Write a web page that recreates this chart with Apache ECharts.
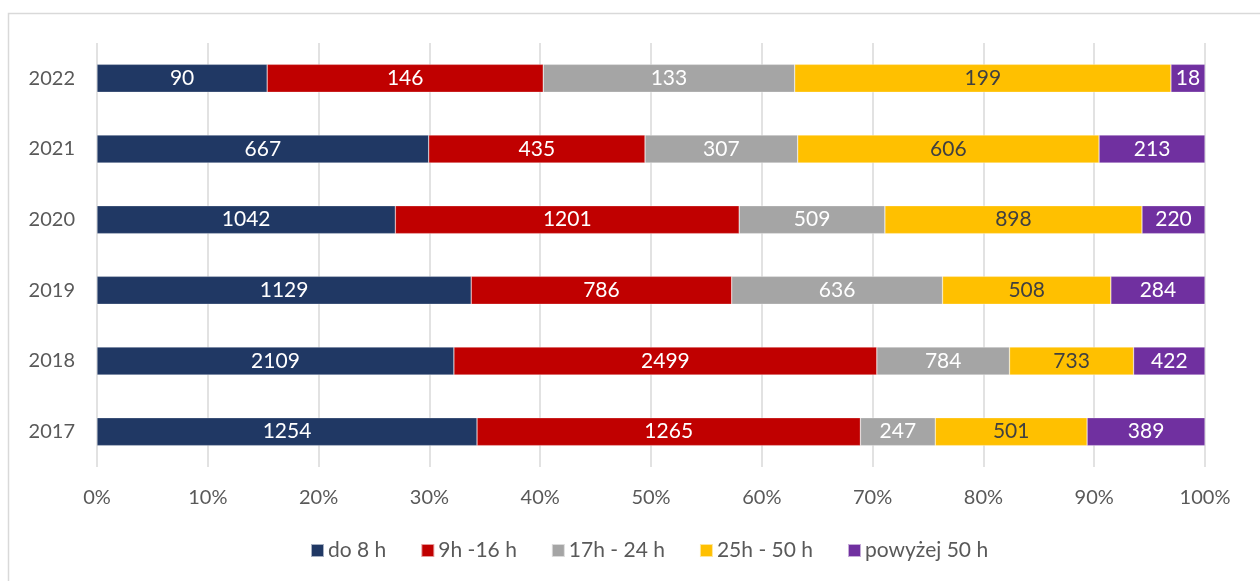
<!DOCTYPE html>
<html><head><meta charset="utf-8">
<script src="https://cdn.jsdelivr.net/npm/echarts@6/dist/echarts.min.js"></script>
<style>html,body{margin:0;padding:0;background:#fff}#c{width:1260px;height:581px}</style>
</head><body><div id="c"></div>
<script>
const years = ['2017','2018','2019','2020','2021','2022'];
const seriesNames = ['do 8 h','9h -16 h','17h - 24 h','25h - 50 h','powyżej 50 h'];
const s1 = [1254, 2109, 1129, 1042, 667, 90];
const s2 = [1265, 2499, 786, 1201, 435, 146];
const s3 = [247, 784, 636, 509, 307, 133];
const s4 = [501, 733, 508, 898, 606, 199];
const s5 = [389, 422, 284, 220, 213, 18];
const xTicks = [0,10,20,30,40,50,60,70,80,90,100];

const colors = ['#203864','#C00000','#A5A5A5','#FFC000','#7030A0'];
const labelColors = ['#ffffff','#ffffff','#ffffff','#404040','#ffffff'];
const all = [s1,s2,s3,s4,s5];
const totals = years.map((_,i)=>all.reduce((a,s)=>a+s[i],0));
const font = 'Lato, "Open Sans", sans-serif';

const chart = echarts.init(document.getElementById('c'));
chart.setOption({
  animation:false,
  textStyle:{fontFamily:font},
  graphic:[{type:'rect',shape:{x:8.5,y:13.5,width:1300,height:700},style:{fill:'none',stroke:'#d9d9d9',lineWidth:1.5},silent:true}],
  grid:{left:97,right:55,top:43,bottom:114},
  legend:{
    bottom:15,left:305,itemWidth:13,itemHeight:13,itemGap:34,icon:'rect',
    textStyle:{color:'#595959',fontSize:21,fontFamily:font,padding:[0,0,0,-1]},
    data:seriesNames
  },
  xAxis:{
    type:'value',min:0,max:100,interval:10,
    axisLine:{show:false},axisTick:{show:false},
    splitLine:{lineStyle:{color:'#d9d9d9',width:1.5}},
    axisLabel:{formatter:v=>xTicks.includes(v)?v+'%':'',color:'#595959',fontSize:20,margin:21,fontFamily:font}
  },
  yAxis:{
    type:'category',data:years,
    axisLine:{show:false},axisTick:{show:false},
    axisLabel:{color:'#595959',fontSize:20,margin:22,fontFamily:font}
  },
  series: all.map((s,k)=>({
    name:seriesNames[k],type:'bar',stack:'t',barWidth:28,
    itemStyle:{color:colors[k],borderColor:'rgba(255,255,255,0.6)',borderWidth:0.5},
    label:{show:true,position:'inside',color:labelColors[k],fontSize:21,fontFamily:font,
      formatter:p=>String(s[p.dataIndex])},
    data:s.map((v,i)=>v/totals[i]*100)
  }))
});
</script></body></html>
